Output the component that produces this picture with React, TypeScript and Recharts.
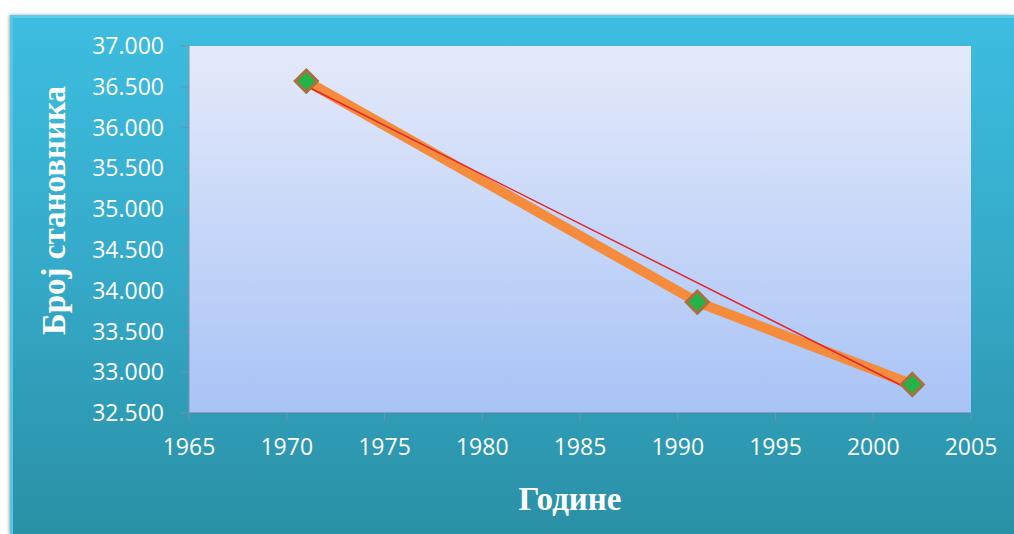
import React from 'react';
import {
  LineChart,
  Line,
  XAxis,
  YAxis,
  CartesianGrid,
  Label,
} from 'recharts';

const years = [1971, 1991, 2002];
const population = [36570, 33860, 32850];
const trendYears = [1971, 2002];
const trendValues = [36510, 32770];
const xTicks = [1965, 1970, 1975, 1980, 1985, 1990, 1995, 2000, 2005];
const yTicks = [32500, 33000, 33500, 34000, 34500, 35000, 35500, 36000, 36500, 37000];

const data = years.map((year, i) => ({ year, value: population[i] }));
const trendData = trendYears.map((year, i) => ({ year, trend: trendValues[i] }));

// 36500 -> "36.500"
const fmtY = (v: number) => `${Math.floor(v / 1000)}.${String(v % 1000).padStart(3, '0')}`;

const Diamond = (props: any) => {
  const { cx, cy } = props;
  if (cx == null || cy == null) return null;
  const r = 11;
  return (
    <g>
      <polygon
        points={`${cx},${cy - r + 2} ${cx + r},${cy + 2} ${cx},${cy + r + 2} ${cx - r},${cy + 2}`}
        fill="rgba(0,0,0,0.25)"
      />
      <polygon
        points={`${cx},${cy - r} ${cx + r},${cy} ${cx},${cy + r} ${cx - r},${cy}`}
        fill="#23b34a"
        stroke="#a8703a"
        strokeWidth={3}
      />
    </g>
  );
};

const tickStyle = { fill: '#ffffff', fontSize: 23, fontFamily: '"Open Sans", sans-serif' };
const titleStyle = {
  fill: '#ffffff',
  fontSize: 33,
  fontWeight: 700,
  fontFamily: '"Liberation Serif", "DejaVu Serif", serif',
};

const App: React.FC = () => {
  return (
    <div style={{ position: 'absolute', left: 0, top: 0, width: 1014, height: 534, background: '#fff' }}>
      <div
        style={{
          position: 'absolute',
          left: 10,
          top: 15,
          width: 1004,
          height: 519,
          background: 'linear-gradient(to bottom, #3dbde0 0%, #35a9c8 50%, #2a90a6 100%)',
          borderLeft: '3px solid #54c7e6',
          borderTop: '3px solid #5ccbe8',
          boxSizing: 'border-box',
          boxShadow: '-1px 0 3px rgba(0,0,0,0.35)',
        }}
      />
      <div style={{ position: 'absolute', left: 0, top: 0 }}>
        <LineChart
          width={1014}
          height={534}
          margin={{ top: 46, right: 43, bottom: 0, left: 0 }}
        >
          <defs>
            <linearGradient id="plotBg" x1="0" y1="0" x2="0" y2="1">
              <stop offset="0%" stopColor="#e5eafa" />
              <stop offset="100%" stopColor="#a8c3f6" />
            </linearGradient>
          </defs>
          <CartesianGrid
            horizontal={false}
            vertical={false}
            fill="url(#plotBg)"
            stroke="none"
          />
          <XAxis
            type="number"
            dataKey="year"
            domain={[1965, 2005]}
            ticks={xTicks}
            height={121}
            tick={tickStyle}
            tickSize={8}
            tickMargin={18}
            stroke="#5f7f9c"
            tickLine={{ stroke: '#6f93b0' }}
            allowDataOverflow
          >
            <Label
              content={(p: any) => {
                const vb = p.viewBox;
                return (
                  <text x={vb.x + vb.width / 2 - 10} y={vb.y + 97} textAnchor="middle" style={titleStyle}>
                    Године
                  </text>
                );
              }}
            />
          </XAxis>
          <YAxis
            type="number"
            domain={[32500, 37000]}
            ticks={yTicks}
            width={189}
            tick={tickStyle}
            tickFormatter={fmtY}
            tickSize={8}
            tickMargin={17}
            stroke="#7f92aa"
            tickLine={{ stroke: '#6f93b0' }}
            allowDataOverflow
          >
            <Label
              content={(p: any) => {
                const vb = p.viewBox;
                const x = vb.x + 65;
                const y = vb.y + vb.height / 2 - 19;
                return (
                  <text
                    x={x}
                    y={y}
                    textAnchor="middle"
                    transform={`rotate(-90 ${x} ${y})`}
                    style={titleStyle}
                  >
                    Број становника
                  </text>
                );
              }}
            />
          </YAxis>
          <Line
            data={data}
            dataKey="value"
            type="linear"
            stroke="#f58b3c"
            strokeWidth={10}
            dot={false}
            activeDot={false}
            isAnimationActive={false}
          />
          <Line
            data={trendData}
            dataKey="trend"
            type="linear"
            stroke="#e3262c"
            strokeWidth={1.5}
            dot={false}
            activeDot={false}
            isAnimationActive={false}
          />
          <Line
            data={data}
            dataKey="value"
            type="linear"
            stroke="none"
            dot={<Diamond />}
            activeDot={false}
            isAnimationActive={false}
          />
        </LineChart>
      </div>
    </div>
  );
};

export default App;
